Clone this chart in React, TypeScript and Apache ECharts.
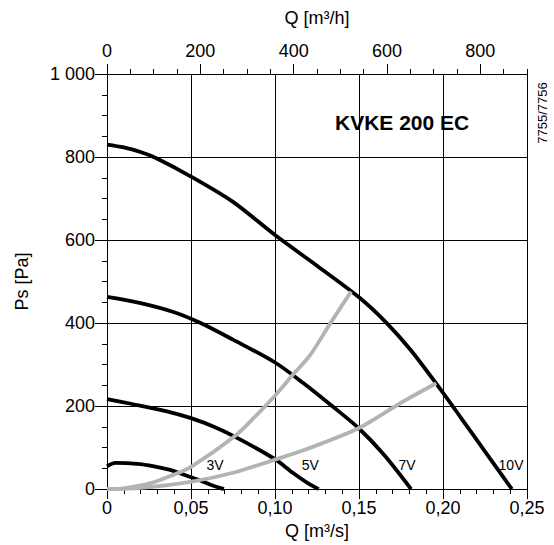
import { useEffect, useRef } from "react";
import * as echarts from "echarts";

// Fan curves (Q in m³/s, Ps in Pa)
const q10V = [0, 0.01, 0.02, 0.03, 0.05, 0.075, 0.1, 0.125, 0.15, 0.1665, 0.181, 0.196, 0.211, 0.226, 0.241];
const p10V = [830, 823, 812, 796, 753, 692, 612, 538, 462, 400, 334, 254, 170, 85, 0];

const q7V = [0, 0.02, 0.04, 0.0557, 0.075, 0.1, 0.117, 0.134, 0.15, 0.165, 0.181];
const p7V = [463, 448, 426, 400, 360, 305, 255, 200, 146, 82, 0];

const q5V = [0, 0.015, 0.035, 0.05, 0.065, 0.08, 0.1, 0.111, 0.12, 0.126];
const p5V = [217, 205, 188, 171, 148, 118, 72, 38, 13, 0];

const q3V = [0, 0.005, 0.018, 0.028, 0.037, 0.045, 0.054, 0.062, 0.0696];
const p3V = [55, 63, 61, 55, 47, 36, 23, 10, 0];

// System curves (grey)
const qSysA = [0, 0.01, 0.025, 0.04, 0.0506, 0.0756, 0.0875, 0.1, 0.111, 0.1208, 0.1327, 0.1453];
const pSysA = [0, 2, 13, 35, 55, 126, 172, 225, 277, 322, 398, 476];

const qSysB = [0, 0.02, 0.0506, 0.0756, 0.1, 0.1174, 0.15, 0.175, 0.196];
const pSysB = [0, 3, 18, 40, 71, 94, 147, 208, 255];

// Curve labels
const curveNames = ["3V", "5V", "7V", "10V"];
const curveLabelQ = [0.0643, 0.121, 0.1786, 0.2405];
const curveLabelP = [57, 57, 57, 57];

// Axis ranges
const qMax = 0.25;
const qStep = 0.05;
const qhMax = 900;
const qhStep = 200;
const psMax = 1000;
const psStep = 200;

const FONT = "'Liberation Sans', Arial, sans-serif";
const FS = 18;

const zip = (a: number[], b: number[]) => a.map((v, i) => [v, b[i]]);

export default function App() {
  const ref = useRef<HTMLDivElement>(null);
  useEffect(() => {
    document.body.style.margin = "0";
    const chart = echarts.init(ref.current!, null, { renderer: "svg" });
    const curve = (q: number[], p: number[], color: string, z: number) => ({
      type: "line",
      data: zip(q, p),
      smooth: 0.3,
      symbol: "none",
      lineStyle: { color, width: 3.8 },
      xAxisIndex: 0,
      yAxisIndex: 0,
      z,
    });
    chart.setOption({
      animation: false,
      textStyle: { fontFamily: FONT },
      grid: { left: 107, top: 74, width: 420, height: 420, containLabel: false },
      xAxis: [
        {
          type: "value",
          position: "bottom",
          min: 0,
          max: qMax,
          interval: qStep,
          name: "Q [m³/s]",
          nameLocation: "middle",
          nameGap: 24,
          nameTextStyle: { fontSize: FS, color: "#000", fontFamily: FONT },
          axisLine: { show: true, lineStyle: { color: "#000", width: 1 } },
          axisTick: { show: true, inside: false, length: 10, lineStyle: { color: "#000" } },
          minorTick: { show: true, splitNumber: 5, length: 5, lineStyle: { color: "#000" } },
          axisLabel: {
            fontSize: FS,
            color: "#000",
            margin: 10,
            fontFamily: FONT,
            formatter: (v: number) => (v === 0 ? "0" : v.toFixed(2).replace(".", ",")),
          },
          splitLine: { show: true, lineStyle: { color: "#000", width: 1 } },
        },
        {
          type: "value",
          position: "top",
          min: 0,
          max: qhMax,
          interval: qhStep,
          name: "Q [m³/h]",
          nameLocation: "middle",
          nameGap: 47,
          nameTextStyle: { fontSize: FS, color: "#000", fontFamily: FONT },
          axisLine: { show: true, lineStyle: { color: "#000", width: 1 } },
          axisTick: { show: true, inside: false, length: 10, lineStyle: { color: "#000" } },
          axisLabel: { fontSize: FS, color: "#000", margin: 14, showMaxLabel: false, fontFamily: FONT },
          splitLine: { show: false },
        },
        {
          type: "value",
          position: "top",
          min: 0,
          max: qhMax,
          interval: 50,
          axisLine: { show: false },
          axisTick: { show: true, inside: false, length: 5, lineStyle: { color: "#000" } },
          axisLabel: { show: false },
          splitLine: { show: false },
        },
      ],
      yAxis: [
        {
          type: "value",
          min: 0,
          max: psMax,
          interval: psStep,
          name: "Ps [Pa]",
          nameLocation: "middle",
          nameGap: 76,
          nameTextStyle: { fontSize: FS, color: "#000", fontFamily: FONT },
          axisLine: { show: true, lineStyle: { color: "#000", width: 1 } },
          axisTick: { show: true, inside: false, length: 12, lineStyle: { color: "#000" } },
          minorTick: { show: true, splitNumber: 4, length: 5, lineStyle: { color: "#000" } },
          axisLabel: {
            fontSize: FS,
            color: "#000",
            margin: 12,
            fontFamily: FONT,
            formatter: (v: number) => (v === 1000 ? "1 000" : String(v)),
          },
          splitLine: { show: true, lineStyle: { color: "#000", width: 1 } },
        },
      ],
      series: [
        curve(q10V, p10V, "#000", 3),
        curve(q7V, p7V, "#000", 3),
        curve(q5V, p5V, "#000", 3),
        curve(q3V, p3V, "#000", 3),
        curve(qSysA, pSysA, "#b3b3b3", 4),
        curve(qSysB, pSysB, "#b3b3b3", 4),
        {
          type: "scatter",
          data: curveNames.map((n, i) => [curveLabelQ[i], curveLabelP[i], n]),
          symbolSize: 1,
          itemStyle: { color: "rgba(0,0,0,0)", opacity: 1 },
          label: {
            show: true,
            position: "inside",
            formatter: (p: any) => p.data[2],
            fontSize: 14,
            color: "#000",
            opacity: 1,
            textBorderWidth: 0,
            fontFamily: FONT,
          },
          z: 5,
        },
      ],
      graphic: [
        {
          type: "text",
          left: 335,
          top: 112,
          style: { text: "KVKE 200 EC", fontSize: 21, fontWeight: "bold", fill: "#000", fontFamily: FONT },
        },
        {
          type: "text",
          x: 542,
          y: 113,
          rotation: Math.PI / 2,
          style: {
            text: "7755/7756",
            fontSize: 13,
            fill: "#000",
            fontFamily: FONT,
            align: "center",
            verticalAlign: "middle",
          },
        },
      ],
    });
    return () => chart.dispose();
  }, []);
  return <div ref={ref} style={{ width: 554, height: 545 }} />;
}
